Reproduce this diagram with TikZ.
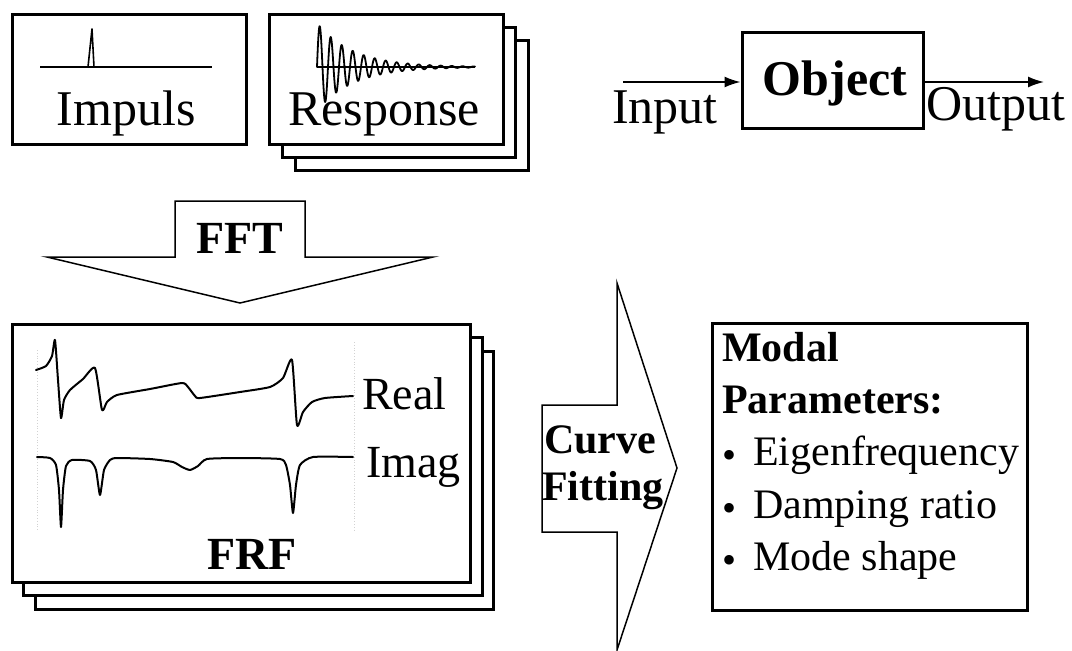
\documentclass[tikz,border=0pt]{standalone}
\usepackage{fontspec}
\setmainfont{Liberation Serif}
\usetikzlibrary{arrows.meta}
\newcommand{\fsz}[1]{\fontsize{#1}{#1}\selectfont}
\tikzset{
  box/.style={draw=black, line width=3pt, fill=white},
  fatarrow/.style={draw=black, line width=1.5pt, fill=white, line join=miter},
  sig/.style={draw=black, line width=2pt, line join=round, line cap=round},
  thinsig/.style={draw=black, line width=1.6pt, line join=round},
  flow/.style={draw=black, line width=1.6pt, -{Latex[length=16pt,width=11pt]}},
  lbl/.style={inner sep=0pt, anchor=base west, font=\fsz{50}},
  lblc/.style={inner sep=0pt, anchor=base, font=\fsz{50}},
  frlbl/.style={inner sep=0pt, anchor=base west, font=\fsz{46}},
  bold46/.style={inner sep=0pt, anchor=base, font=\fsz{46}\bfseries},
  bold42/.style={inner sep=0pt, anchor=base west, font=\fsz{42}\bfseries},
  item/.style={inner sep=0pt, anchor=base west, font=\fsz{42}},
  bul/.style={inner sep=0pt, anchor=center, font=\fsz{40}},
  faint/.style={draw=gray!35, line width=0.8pt, dotted}
}
\begin{document}
\begin{tikzpicture}[x=1pt, y=-1pt]
\useasboundingbox (0,0) rectangle (1072,651);

% ---------- Impuls box ----------
\draw[box] (12,14) rectangle (246,144);
\draw[thinsig] (40,67) -- (212,67);
\draw[thinsig] (88,67) -- (92,29) -- (94,67);
\node[lblc] (impuls) at (126,125) {Impuls};

% ---------- Response stack ----------
\draw[box] (295,40) rectangle (528,170);
\draw[box] (282,27) rectangle (515,157);
\draw[box] (269,14) rectangle (503,144);
\draw[thinsig] (317,67) -- (475,67);
\draw[sig, line width=1.8pt] plot[domain=0:158, samples=600]
  ({317+\x},{67 - 44*exp(-0.028*\x)*sin(\x/11*360)});
\node[lbl] (response) at (288,125) {Response};

% ---------- Object with input / output ----------
\node[box, minimum width=181pt, minimum height=96pt, inner sep=0pt] (obj) at (832.5,80) {};
\node[inner sep=0pt, anchor=base, font=\fsz{50}\bfseries] (objtxt) at (835,95) {Object};
\coordinate (inS) at (623,82);
\coordinate (outE) at (1044,82);
\draw[flow] (inS) -- (inS -| obj.west);
\draw[flow] (obj.east |- outE) -- (outE);
\node[lbl] (input) at (612,123) {Input};
\node[lbl] (output) at (926,120) {Output};

% ---------- FFT arrow ----------
\draw[fatarrow] (175,201) -- (305,201) -- (305,257) -- (433,257) -- (240,303)
  -- (47,257) -- (175,257) -- cycle;
\node[bold46] (fft) at (240,253) {FFT};

% ---------- FRF stack ----------
\draw[box] (35,351) rectangle (493,609);
\draw[box] (23,337) rectangle (482,595);
\draw[box] (12,324) rectangle (470,582);
\draw[faint] (37,350) -- (37,530);
\draw[faint] (354,342) -- (354,530);
\draw[sig] plot[smooth, tension=0.35] coordinates {
  (36,370) (46,366) (52,356) (55,340) (58,380) (61,418) (64,400) (70,390)
  (83,379) (95,368) (102,410) (107,402) (117,395) (150,389) (182,383)
  (188,387) (195,396) (200,398) (240,392) (270,387) (283,378) (292,360)
  (297,425) (303,412) (312,402) (325,398) (353,396)};
\draw[sig] plot[smooth, tension=0.35] coordinates {
  (37,457) (50,458) (56,465) (59,490) (61,527) (63,490) (66,466) (72,460)
  (90,461) (96,470) (100,495) (104,470) (110,460) (117,458) (150,459)
  (173,462) (182,467) (190,470) (198,466) (207,459) (240,458) (280,459)
  (286,465) (290,485) (293,513) (296,485) (300,465) (313,457) (353,457)};
\node[frlbl] (real) at (362,409) {Real};
\node[frlbl] (imag) at (366,477) {Imag};
\node[bold46] (frf) at (252,569) {FRF};

% ---------- Curve fitting arrow ----------
\draw[fatarrow] (542,405) -- (617,405) -- (617,283) -- (677,468) -- (617,650)
  -- (617,532) -- (542,532) -- cycle;
\node[bold42] (curve) at (544,453) {Curve};
\node[bold42] (fitting) at (542,500) {Fitting};

% ---------- Modal parameters ----------
\draw[box] (712,323) rectangle (1027,610);
\node[bold42] (modal) at (722,361) {Modal};
\node[bold42] (params) at (722,413) {Parameters:};
\node[bul] (b1) at (729,459) {\textbullet};
\node[bul] (b2) at (729,512) {\textbullet};
\node[bul] (b3) at (729,564) {\textbullet};
\node[item] (eig) at (753,465) {Eigenfrequency};
\node[item] (damp) at (753,518) {Damping ratio};
\node[item] (mode) at (753,570) {Mode shape};
\end{tikzpicture}
\end{document}
